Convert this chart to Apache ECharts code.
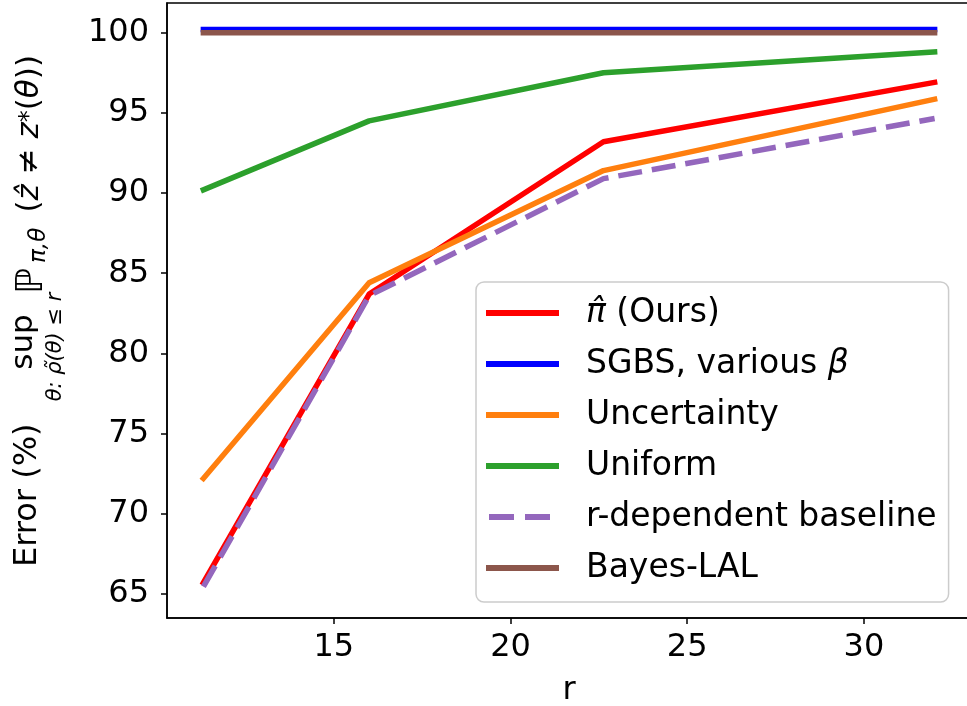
<!DOCTYPE html>
<html><head><meta charset="utf-8">
<script src="https://cdn.jsdelivr.net/npm/echarts@6/dist/echarts.min.js"></script>
<style>html,body{margin:0;padding:0;background:#fff}#c{width:967px;height:706px}</style>
</head><body><div id="c"></div>
<script>
// ---- data ----
const rValues = [11.31, 16, 22.63, 32];
const oursValues = [65.7, 83.7, 93.2, 96.9];
const sgbsValues = [100.2, 100.2, 100.2, 100.2];
const uncertaintyValues = [72.2, 84.4, 91.4, 95.85];
const uniformValues = [90.2, 94.5, 97.5, 98.8];
const rDependentValues = [65.45, 83.6, 90.9, 94.65];
const bayesLalValues = [100, 100, 100, 100];
const xTickValues = [15, 20, 25, 30];
const yTickValues = [65, 70, 75, 80, 85, 90, 95, 100];
const seriesNames = ['ours', 'sgbs', 'Uncertainty', 'Uniform', 'r-dependent baseline', 'Bayes-LAL'];
const seriesColors = ['#ff0000', '#0000ff', '#ff7f0e', '#2ca02c', '#9467bd', '#8c564b'];
const seriesValues = [oursValues, sgbsValues, uncertaintyValues, uniformValues, rDependentValues, bayesLalValues];

const FONT = 'DejaVu Sans';
const chart = echarts.init(document.getElementById('c'), null, {renderer: 'canvas'});

const DASHED = 'r-dependent baseline';
const series = seriesNames.map((name, i) => ({
  type: 'line',
  name: name,
  data: rValues.map((x, j) => [x, seriesValues[i][j]]),
  symbol: 'none',
  showSymbol: false,
  z: 2 + i,
  lineStyle: {
    color: seriesColors[i],
    width: 5.5,
    type: name === DASHED ? [24, 10] : 'solid',
    cap: name === DASHED ? 'butt' : 'square',
    join: 'round'
  },
  itemStyle: {color: seriesColors[i], borderWidth: 0},
  emphasis: {disabled: true},
  animation: false
}));

const solidIcon = 'path://M0,0H73V6H0Z';
const dashedIcon = 'path://M0,0M3,0H28V6H3ZM39,0H64V6H39ZM73,6';

const axisLineStyle = {color: '#000', width: 1.5};

chart.setOption({
  backgroundColor: '#fff',
  animation: false,
  grid: {left: 167, right: -4, top: 3, bottom: 88, show: true, borderColor: '#000', borderWidth: 1.5,
         backgroundColor: 'transparent', containLabel: false, outerBoundsMode: 'none'},
  xAxis: {
    type: 'value', min: 10.28, max: 33.03,
    name: 'r', nameLocation: 'middle', nameGap: 57,
    nameTextStyle: {fontFamily: FONT, fontSize: 32, color: '#000'},
    axisLine: {show: true, lineStyle: axisLineStyle},
    axisTick: {show: true, length: 6, lineStyle: axisLineStyle, customValues: xTickValues},
    axisLabel: {fontFamily: FONT, fontSize: 32, color: '#000', margin: 14, customValues: xTickValues},
    splitLine: {show: false}
  },
  yAxis: {
    type: 'value', min: 63.5, max: 101.85,
    axisLine: {show: true, lineStyle: axisLineStyle},
    axisTick: {show: true, length: 6, lineStyle: axisLineStyle, customValues: yTickValues},
    axisLabel: {fontFamily: FONT, fontSize: 32, color: '#000', margin: 18, customValues: yTickValues},
    splitLine: {show: false}
  },
  legend: {
    orient: 'vertical', left: 476, top: 282,
    padding: [13, 12, 16, 10],
    itemWidth: 73, itemHeight: 6, itemGap: 15,
    selectedMode: false,
    symbolKeepAspect: false,
    backgroundColor: 'rgba(255,255,255,0.8)',
    borderColor: '#cccccc', borderWidth: 1.5, borderRadius: 8,
    itemStyle: {borderWidth: 0},
    data: seriesNames.map(n => ({name: n, icon: n === DASHED ? dashedIcon : solidIcon})),
    formatter: function (name) {
      if (name === 'ours') return '{it|π\u0302} (Ours)';
      if (name === 'sgbs') return 'SGBS, various {it|β}';
      return name;
    },
    textStyle: {
      fontFamily: FONT, fontSize: 33, color: '#000', lineHeight: 36, padding: [0, 0, 0, 22],
      rich: {it: {fontFamily: FONT, fontSize: 33, fontStyle: 'italic', lineHeight: 36, color: '#000'}}
    }
  },
  graphic: [{
    type: 'group', x: 0, y: 706, rotation: Math.PI / 2, silent: true,
    children: [
      {type: 'text', x: 139, y: 28, style: {text: 'Error (%)', font: '32px "DejaVu Sans"', fill: '#000', align: 'left', verticalAlign: 'middle'}},
      {type: 'text', x: 364, y: 24, style: {text: 'sup', font: '31px "DejaVu Sans"', fill: '#000', align: 'center', verticalAlign: 'middle'}},
      {type: 'text', x: 359, y: 56, style: {text: 'θ: ρ\u0303(θ) ≤ r', font: 'italic 21px "DejaVu Sans"', fill: '#000', align: 'center', verticalAlign: 'middle'}},
      {type: 'text', x: 412, y: 32, style: {text: 'ℙ', font: '37px "DejaVu Sans"', fill: '#000', align: 'left', verticalAlign: 'middle'}},
      {type: 'text', x: 443, y: 39, style: {text: 'π,θ', font: 'italic 23px "DejaVu Sans"', fill: '#000', align: 'left', verticalAlign: 'middle'}},
      {type: 'text', x: 651, y: 30, style: {
        text: '({i|z\u0302} ≠ {i|z}{s|*}({i|θ}))', font: '31px "DejaVu Sans"', fill: '#000', align: 'right', verticalAlign: 'middle',
        rich: {
          i: {fontFamily: FONT, fontSize: 31, fontStyle: 'italic', fill: '#000'},
          s: {fontFamily: FONT, fontSize: 24, fill: '#000', verticalAlign: 'middle'}
        }
      }}
    ]
  }],
  series: series
});
</script>
</body></html>
